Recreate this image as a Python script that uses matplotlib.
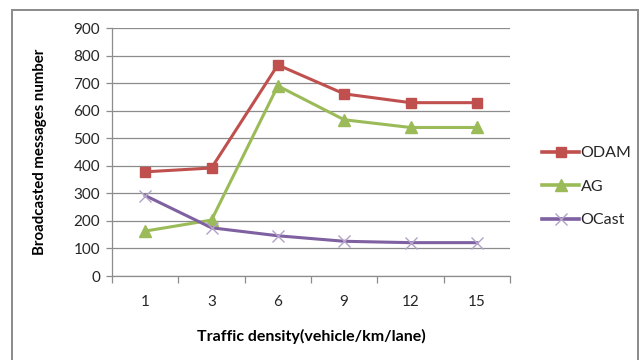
import matplotlib
matplotlib.use("Agg")
import matplotlib.pyplot as plt
from matplotlib.patches import Rectangle

plt.rcParams['font.family'] = ['Lato', 'DejaVu Sans']

densities = ['1', '3', '6', '9', '12', '15']
odam = [378, 392, 766, 661, 629, 629]
ag = [163, 203, 690, 567, 539, 539]
ocast = [292, 175, 146, 126, 121, 121]

series = [
    ('ODAM', odam, '#C0504D', 's', 7.5, '#C0504D', 1.0),
    ('AG', ag, '#9BBB59', '^', 8, '#9BBB59', 1.0),
    ('OCast', ocast, '#7F60A0', 'x', 8, '#B3A2C7', 1.0),
]

W, H = 643, 360
fig = plt.figure(figsize=(W / 100, H / 100), dpi=100, facecolor='white')

# outer chart border
fig.patches.append(Rectangle((12 / W, -0.05), (638 - 12) / W, (350 + 18) / H,
                             transform=fig.transFigure, fill=False,
                             edgecolor='#8a8a8a', linewidth=1.4))

ax = fig.add_axes([112 / W, 1 - 276 / H, (510 - 112) / W, (276 - 28) / H])
xs = list(range(len(densities)))

for name, vals, col, mk, ms, mcol, mew in series:
    ax.plot(xs, vals, color=col, linewidth=2.2, marker=mk, markersize=ms,
            markerfacecolor=mcol, markeredgecolor=mcol, markeredgewidth=mew,
            label=name, zorder=3)

ax.set_xlim(-0.5, len(densities) - 0.5)
ax.set_ylim(0, 900)
ax.set_yticks(range(0, 901, 100))
ax.set_xticks(xs)
ax.set_xticklabels(densities)
ax.set_xticks([i - 0.5 for i in range(len(densities) + 1)], minor=True)

ax.grid(axis='y', color='#8c8c8c', linewidth=0.9)
ax.set_axisbelow(True)
for s in ['top', 'right']:
    ax.spines[s].set_visible(False)
for s in ['left', 'bottom']:
    ax.spines[s].set_color('#8c8c8c')
    ax.spines[s].set_linewidth(0.9)

tick_col = '#262626'
ax.tick_params(axis='x', which='major', length=0, pad=14, labelsize=11, labelcolor=tick_col)
ax.tick_params(axis='x', which='minor', length=5, color='#8c8c8c', width=0.9)
ax.tick_params(axis='y', length=4, color='#8c8c8c', width=0.9, labelsize=11,
               pad=4.5, labelcolor=tick_col)

ax.set_xlabel('Traffic density(vehicle/km/lane)', fontsize=11.5, fontweight='bold', labelpad=14)
ax.set_ylabel('Broadcasted messages number', fontsize=10.8, fontweight='bold', labelpad=7)
ax.yaxis.set_label_coords(-0.163, 0.5)

leg = ax.legend(loc='center left', bbox_to_anchor=(1.045, 0.36), frameon=False,
                fontsize=11.5, handlelength=2.3, handletextpad=0.1, labelspacing=1.2)
for t in leg.get_texts():
    t.set_color(tick_col)
for ln in leg.get_lines():
    ln.set_linewidth(2.6)

fig.savefig('out.png', dpi=100, facecolor='white')
